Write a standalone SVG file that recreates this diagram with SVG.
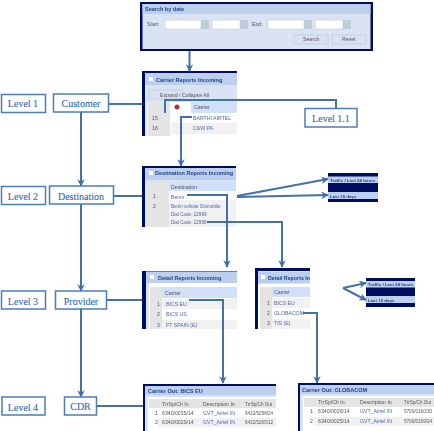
<svg xmlns="http://www.w3.org/2000/svg" width="434" height="431" viewBox="0 0 434 431">
<style>
.box{fill:#fff;stroke:#4a7ebb;stroke-width:1.5}
.lbl{font:10px "Liberation Serif",serif;fill:#2f6ab5;text-anchor:middle;stroke:#2f6ab5;stroke-width:.1}
.c{fill:none;stroke:#4272a8;stroke-width:2}
.p{font-family:"Liberation Sans",sans-serif;font-size:5.2px;fill:#555}
.t{font-family:"Liberation Sans",sans-serif;font-size:5.5px;font-weight:bold;fill:#1f3f8a}
.s{font-size:4.400px}
.d{font-size:4.600px}
.lnk{fill:#4a68b0}
.navy{fill:#020a5e}
.bar{fill:#bcd0ee}
.body{fill:#d9e3f4}
.hdr{fill:#cfe0f8}
.row{fill:#f1f1f1}
.cell{fill:#e4e4e4}
.in{fill:#fff;stroke:#c4ccd8;stroke-width:.6}
.ic{fill:#c0cbdc}
.btn{fill:#d8e2f2;stroke:#b5c4dc;stroke-width:.6}
</style>
<defs>
<filter id="soft" x="-5%" y="-5%" width="110%" height="110%"><feGaussianBlur stdDeviation="0.5"/></filter>
<marker id="a" viewBox="0 0 10 10" refX="9" refY="5" markerWidth="7.500" markerHeight="7.500" markerUnits="userSpaceOnUse" orient="auto"><path d="M0 0L10 5L0 10L3 5Z" fill="#3f6fa8"/></marker>
</defs>

<g id="panel-search" filter="url(#soft)">
<rect class="navy" x="140" y="2" width="233" height="49"/>
<rect class="body" x="142.500" y="4" width="228" height="45"/>
<rect class="bar" x="142.500" y="4" width="228" height="10"/>
<text class="t" x="145" y="11">Search by date</text>
<text class="p" x="147" y="25.500">Start:</text>
<rect class="in" x="165" y="20" width="36" height="9"/><rect class="ic" x="201" y="20" width="8" height="9"/>
<rect class="in" x="212" y="20" width="28" height="9"/><rect class="ic" x="240" y="20" width="8" height="9"/>
<text class="p" x="252" y="25.500">End:</text>
<rect class="in" x="268" y="20" width="36" height="9"/><rect class="ic" x="304" y="20" width="8" height="9"/>
<rect class="in" x="315" y="20" width="28" height="9"/><rect class="ic" x="343" y="20" width="8" height="9"/>
<rect class="btn" x="294" y="35" width="34" height="9"/><text class="p" x="303" y="41">Search</text>
<rect class="btn" x="332" y="35" width="34" height="9"/><text class="p" x="342" y="41">Reset</text>
</g>

<g id="panel-carrier" filter="url(#soft)">
<rect class="navy" x="142" y="71" width="95" height="65"/>
<rect class="body" x="145" y="73" width="92" height="63"/>
<rect class="bar" x="145" y="73" width="92" height="12"/>
<rect x="149" y="77" width="4" height="4" fill="#fff"/>
<text class="t" x="156" y="81.500">Carrier Reports Incoming</text>
<rect class="btn" x="149" y="90" width="34" height="9"/>
<text class="p" x="160" y="96.500">Expand / Collapse All</text>
<rect x="147" y="102" width="90" height="34" fill="#fff"/>
<rect class="cell" x="148" y="102" width="22" height="34"/>
<rect class="hdr" x="191" y="102" width="46" height="11"/>
<circle cx="177" cy="107" r="2.500" fill="#a33"/>
<text class="p" x="194" y="109">Carrier</text>
<rect class="row" x="171" y="123" width="66" height="11"/>
<text class="p" x="152" y="120">15</text><text class="p" x="152" y="130">16</text>
<text class="p lnk" x="193" y="120">BARTHI AIRTEL</text>
<text class="p lnk" x="193" y="130">C&amp;W PA</text>
</g>

<g id="panel-destination" filter="url(#soft)">
<rect class="navy" x="142" y="166" width="94" height="61"/>
<rect class="body" x="145" y="168" width="91" height="59"/>
<rect class="bar" x="145" y="168" width="91" height="12"/>
<rect x="149" y="171" width="4" height="4" fill="#fff"/>
<text class="t" x="155" y="175">Destination Reports Incoming</text>
<rect x="147" y="182" width="89" height="45" fill="#fff"/>
<rect class="cell" x="147" y="182" width="22" height="45"/>
<rect class="hdr" x="169" y="182" width="67" height="9"/>
<rect class="row" x="169" y="200" width="67" height="27"/>
<text class="p" x="171" y="188.500">Destination</text>
<text class="p" x="153" y="198">1</text><text class="p" x="153" y="208">2</text>
<text class="p lnk" x="171" y="198.500">Benin</text>
<text class="p lnk d" x="171" y="208">Benin cellular Glomobile</text>
<text class="p lnk d" x="171" y="216">Dial Code: 22999</text>
<text class="p lnk d" x="171" y="224">Dial Code: 22998</text>
</g>

<g id="panel-traffic-1" filter="url(#soft)">
<rect class="navy" x="328" y="173" width="50" height="29"/>
<rect class="bar" x="328" y="176.500" width="50" height="6.500"/>
<rect class="bar" x="328" y="192" width="50" height="7"/>
<text class="t s" x="330" y="181.500">Traffic / Last 24 hours</text>
<text class="t s" x="330" y="197.500">Last 15 days</text>
</g>

<g id="panel-detail-1" filter="url(#soft)">
<rect class="navy" x="142" y="271" width="95" height="58"/>
<rect class="body" x="146" y="271.500" width="91" height="57.500"/>
<rect class="bar" x="146" y="272" width="91" height="11"/>
<rect x="150" y="275" width="4" height="4" fill="#fff"/>
<text class="t" x="158" y="279.500">Detail Reports Incoming</text>
<rect x="149" y="283" width="88" height="46" fill="#fff"/>
<rect class="cell" x="150" y="287" width="12" height="42"/>
<rect class="hdr" x="162" y="287" width="75" height="11"/>
<rect class="row" x="162" y="299" width="75" height="10"/>
<rect class="row" x="162" y="320" width="75" height="9"/>
<text class="p" x="165" y="294.500">Carrier</text>
<text class="p" x="157" y="305.500">1</text><text class="p" x="157" y="316">2</text><text class="p" x="157" y="327">3</text>
<text class="p lnk" x="166" y="305.500">BICS EU</text>
<text class="p lnk" x="166" y="316">BICS US</text>
<text class="p lnk" x="166" y="327">FT SPAIN (E)</text>
</g>

<g id="panel-detail-2" filter="url(#soft)">
<rect class="navy" x="255" y="268" width="55" height="61"/>
<rect class="body" x="258" y="271" width="52" height="58"/>
<rect class="bar" x="258" y="272" width="52" height="11"/>
<rect x="261" y="275" width="4" height="4" fill="#fff"/>
<text class="t" x="268" y="279.500" textLength="42" lengthAdjust="spacingAndGlyphs">Detail Reports In</text>
<rect x="258" y="284" width="52" height="45" fill="#fff"/>
<rect class="cell" x="260" y="287" width="12" height="42"/>
<rect class="hdr" x="272" y="287" width="38" height="10"/>
<rect class="row" x="272" y="298" width="38" height="10"/>
<rect class="row" x="272" y="319" width="38" height="10"/>
<text class="p" x="274" y="293.500">Carrier</text>
<text class="p" x="267" y="304.500">1</text><text class="p" x="267" y="314.500">2</text><text class="p" x="267" y="324.500">3</text>
<text class="p lnk" x="274" y="304.500">BICS EU</text>
<text class="p lnk" x="274" y="314.500">GLOBACOM</text>
<text class="p lnk" x="274" y="324.500">TIS (E)</text>
</g>

<g id="panel-traffic-2" filter="url(#soft)">
<rect class="navy" x="366" y="278" width="49" height="29"/>
<rect class="bar" x="366" y="281" width="49" height="6.500"/>
<rect class="bar" x="366" y="296" width="49" height="7"/>
<text class="t s" x="368" y="286">Traffic / Last 24 hours</text>
<text class="t s" x="368" y="301.500">Last 15 days</text>
</g>

<g id="panel-cdr-1" filter="url(#soft)">
<rect class="navy" x="143" y="384" width="133" height="47"/>
<rect class="body" x="145" y="386" width="131" height="45"/>
<rect class="bar" x="145" y="386" width="131" height="9"/>
<text class="t" x="148" y="393">Carrier Out: BICS EU</text>
<rect x="148" y="397" width="128" height="34" fill="#fff"/>
<rect class="cell" x="149" y="399" width="127" height="9"/>
<rect class="row" x="158" y="418" width="118" height="9"/>
<text class="p" x="162" y="405.500">TrrSp/Ch In</text><text class="p" x="203" y="405.500">Description In</text><text class="p d" x="245" y="405.500">TrrSp/Ch Out</text>
<text class="p" x="155" y="415">1</text><text class="p" x="162" y="415">6340/0035/14</text><text class="p lnk" x="203" y="415">GVT_Airtel IN</text><text class="p d" x="245" y="415">6432/5298/24</text>
<text class="p" x="155" y="424">2</text><text class="p" x="162" y="424">6340/0029/14</text><text class="p lnk" x="203" y="424">GVT_Airtel IN</text><text class="p d" x="245" y="424">6432/5265/12</text>
</g>

<g id="panel-cdr-2" filter="url(#soft)">
<rect class="navy" x="298" y="383" width="136" height="48"/>
<rect class="body" x="300" y="385" width="134" height="46"/>
<rect class="bar" x="300" y="385" width="134" height="9"/>
<text class="t" x="302" y="391.500">Carrier Out: GLOBACOM</text>
<rect x="303" y="396" width="131" height="35" fill="#fff"/>
<rect class="cell" x="304" y="398" width="130" height="9"/>
<rect class="row" x="314" y="417" width="120" height="9"/>
<text class="p" x="318" y="403.500">TrrSp/Ch In</text><text class="p" x="360" y="403.500">Description In</text><text class="p d" x="404" y="403.500">TrrSp/Ch Out</text>
<text class="p" x="310" y="413">1</text><text class="p" x="318" y="413">6340/0026/14</text><text class="p lnk" x="360" y="413">GVT_Airtel IN</text><text class="p d" x="404" y="413">5700/0160/30</text>
<text class="p" x="310" y="423">2</text><text class="p" x="318" y="423">6340/0025/14</text><text class="p lnk" x="360" y="423">GVT_Airtel IN</text><text class="p d" x="404" y="423">5700/0199/24</text>
</g>

<g id="connectors">
<path class="c" d="M81 112V186" marker-end="url(#a)"/>
<path class="c" d="M81 204V291" marker-end="url(#a)"/>
<path class="c" d="M81 309V397" marker-end="url(#a)"/>
<path class="c" d="M108 104H142"/>
<path class="c" d="M113 196H142"/>
<path class="c" d="M106 300H142"/>
<path class="c" d="M96 406H143"/>
<path class="c" d="M189.500 51V71" marker-end="url(#a)"/>
<path class="c" d="M192 117H181V166" marker-end="url(#a)"/>
<path class="c" d="M165 113V100H336V108"/>
<path class="c" d="M187 195H227V267" marker-end="url(#a)"/>
<path class="c" d="M207 222H282V267" marker-end="url(#a)"/>
<path class="c" d="M189 300H223V383" marker-end="url(#a)"/>
<path class="c" d="M303 313H317V383" marker-end="url(#a)"/>
<path class="c" d="M237 196L328 179" marker-end="url(#a)"/>
<path class="c" d="M237 197L328 195" marker-end="url(#a)"/>
<path class="c" d="M343 288L366 283" marker-end="url(#a)"/>
<path class="c" d="M343 288L366 300" marker-end="url(#a)"/>
</g>

<g id="level-1"><rect class="box" x="1.500" y="94.500" width="44" height="18"/><text class="lbl" x="23" y="107">Level 1</text></g>
<g id="customer"><rect class="box" x="53.500" y="94" width="55" height="18"/><text class="lbl" x="81" y="107">Customer</text></g>
<g id="level-1-1"><rect class="box" x="305" y="108.500" width="52" height="18.500"/><text class="lbl" x="331" y="121.500">Level 1.1</text></g>
<g id="level-2"><rect class="box" x="1.500" y="186.500" width="44" height="18"/><text class="lbl" x="23" y="200">Level 2</text></g>
<g id="destination"><rect class="box" x="49.500" y="186" width="64" height="18"/><text class="lbl" x="81" y="200">Destination</text></g>
<g id="level-3"><rect class="box" x="1.500" y="291" width="44" height="18"/><text class="lbl" x="23" y="305">Level 3</text></g>
<g id="provider"><rect class="box" x="55.500" y="291" width="51" height="18"/><text class="lbl" x="81" y="305">Provider</text></g>
<g id="level-4"><rect class="box" x="2" y="397" width="43" height="18"/><text class="lbl" x="23" y="411">Level 4</text></g>
<g id="cdr"><rect class="box" x="64.500" y="397" width="32" height="18"/><text class="lbl" x="80.500" y="410">CDR</text></g>
</svg>
